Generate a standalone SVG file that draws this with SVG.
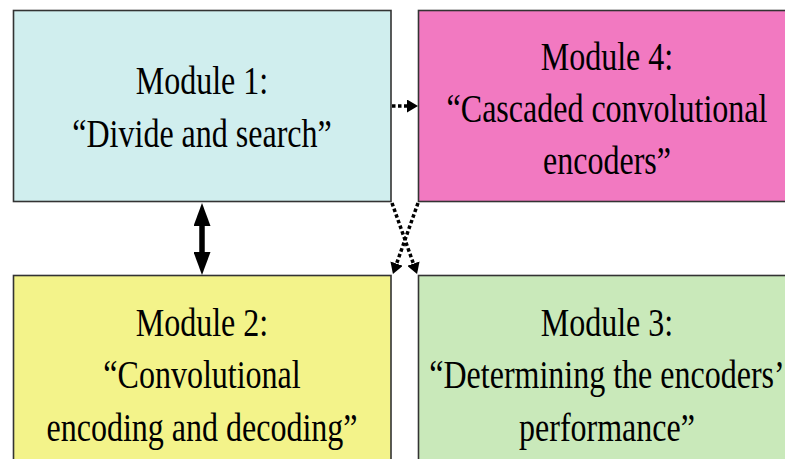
<svg xmlns="http://www.w3.org/2000/svg" width="785" height="459" viewBox="0 0 785 459">
<style>
.box{stroke:#333;stroke-width:1.6}
.t{font-family:"Liberation Serif","Times New Roman",serif;font-size:40px;fill:#000;text-anchor:middle}
.dot{stroke:#000;stroke-width:3.5;stroke-dasharray:3.5 2.5;fill:none}
.solid{stroke:#000;stroke-width:5.5;fill:none}
</style>
<defs>
<marker id="solidHead" viewBox="0 0 23 17" refX="11" refY="8.5" markerWidth="23" markerHeight="17" markerUnits="userSpaceOnUse" orient="auto-start-reverse">
<path d="M0,0 L23,8.5 L0,17 Z" fill="#000"/>
</marker>
<marker id="dotHead" viewBox="0 0 11 13" refX="0" refY="6.5" markerWidth="11" markerHeight="13" markerUnits="userSpaceOnUse" orient="auto">
<path d="M0,0 L11,6.5 L0,13 Z" fill="#000"/>
</marker>
</defs>
<rect width="785" height="459" fill="#fff"/>
<g id="module1">
<rect class="box" x="13.5" y="10.5" width="377.5" height="191" fill="#D0EEEE"/>
<g transform="scale(0.8,1)"><text class="t" x="252.5" y="94">Module 1:</text><text class="t" x="252.5" y="147">“Divide and search”</text></g>
</g>
<g id="module4">
<rect class="box" x="418.5" y="10.5" width="378" height="191" fill="#F279C1"/>
<g transform="scale(0.8,1)"><text class="t" x="758.75" y="70">Module 4:</text><text class="t" x="758.75" y="122">“Cascaded convolutional</text><text class="t" x="758.75" y="174">encoders”</text></g>
</g>
<g id="module2">
<rect class="box" x="13.5" y="275.5" width="377.5" height="195" fill="#F3F38A"/>
<g transform="scale(0.8,1)"><text class="t" x="252.5" y="336">Module 2:</text><text class="t" x="252.5" y="388">“Convolutional</text><text class="t" x="252.5" y="441">encoding and decoding”</text></g>
</g>
<g id="module3">
<rect class="box" x="418.5" y="275.5" width="378" height="195" fill="#C9E9BA"/>
<g transform="scale(0.8,1)"><text class="t" x="758.75" y="336">Module 3:</text><text class="t" x="758.75" y="388">“Determining the encoders’</text><text class="t" x="758.75" y="441">performance”</text></g>
</g>
<g id="connectors">
<line class="solid" x1="202" y1="215" x2="202" y2="263" marker-start="url(#solidHead)" marker-end="url(#solidHead)"/>
<line class="dot" x1="392" y1="106" x2="407" y2="106" marker-end="url(#dotHead)"/>
<line class="dot" x1="392" y1="203" x2="413.4" y2="263.6" marker-end="url(#dotHead)"/>
<line class="dot" x1="418" y1="203" x2="396.6" y2="263.6" marker-end="url(#dotHead)"/>
</g>
</svg>
